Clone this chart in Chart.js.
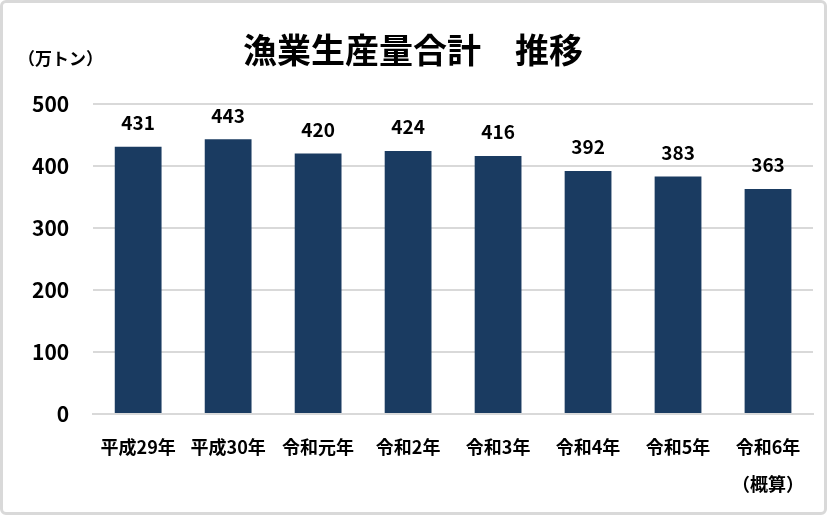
<!DOCTYPE html>
<html lang="ja">
<head>
<meta charset="utf-8">
<script src="https://cdn.jsdelivr.net/npm/chart.js@4.4.1/dist/chart.umd.min.js"></script>
<style>
    html, body { margin: 0; padding: 0; background: #fff; }
    #wrap {
        width: 827px; height: 515px; box-sizing: border-box;
        border: 3px solid #d9d9d9; border-radius: 6px; position: relative;
    }
    #wrap canvas { display: block; }
</style>
</head>
<body>
<div id="wrap"><canvas id="catchChart" width="821" height="509"></canvas></div>
<script>
/* 漁業生産量合計 推移 (万トン) */
const years = ['平成29年', '平成30年', '令和元年', '令和2年', '令和3年', '令和4年', '令和5年', ['令和6年', '（概算）']];
const production = [431, 443, 420, 424, 416, 392, 383, 363];
const yTicks = [0, 100, 200, 300, 400, 500];

const FONT = '"Noto Sans CJK JP", "Noto Sans", sans-serif';

/* title, unit label and value labels */
const textPlugin = {
    id: 'textPlugin',
    afterDatasetsDraw(chart) {
        const ctx = chart.ctx;
        ctx.save();
        ctx.fillStyle = '#000';
        ctx.textAlign = 'center';
        ctx.textBaseline = 'middle';
        ctx.font = 'bold 34px ' + FONT;
        ctx.fillText('漁業生産量合計\u3000推移', 410, 47);

        ctx.font = 'bold 17px ' + FONT;
        ctx.textAlign = 'left';
        ctx.fillText('（万トン）', 15, 56);

        ctx.textAlign = 'center';
        ctx.font = 'bold 19px ' + FONT;
        const meta = chart.getDatasetMeta(0);
        meta.data.forEach((bar, i) => {
            ctx.fillText(String(production[i]), bar.x, bar.y - 24);
        });
        ctx.restore();
    }
};

new Chart(document.getElementById('catchChart'), {
    type: 'bar',
    data: {
        labels: years,
        datasets: [{
            data: production,
            backgroundColor: '#1a3b61',
            barPercentage: 0.52,
            categoryPercentage: 1
        }]
    },
    options: {
        responsive: false,
        animation: false,
        layout: { padding: { top: 101, left: 5, right: 11, bottom: 0 } },
        plugins: {
            legend: { display: false },
            tooltip: { enabled: false }
        },
        scales: {
            x: {
                afterFit(axis) { axis.height = 98; },
                grid: { display: false, drawTicks: false },
                border: { color: '#d9d9d9', width: 2 },
                ticks: {
                    color: '#000',
                    padding: 15,
                    maxRotation: 0,
                    autoSkip: false,
                    font: { family: FONT, size: 18, weight: 'bold', lineHeight: 2.05 }
                }
            },
            y: {
                min: 0,
                max: 500,
                afterBuildTicks(axis) { axis.ticks = yTicks.map(v => ({ value: v })); },
                grid: { color: '#d9d9d9', lineWidth: 2, drawTicks: false },
                border: { display: false },
                ticks: {
                    color: '#000',
                    padding: 24,
                    font: { family: FONT, size: 21, weight: 'bold' }
                }
            }
        }
    },
    plugins: [textPlugin]
});
</script>
</body>
</html>
